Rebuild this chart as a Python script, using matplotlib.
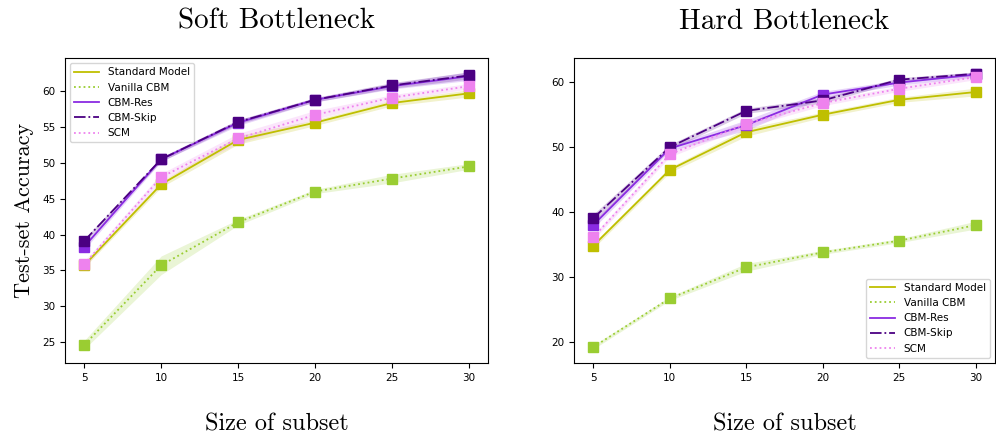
import numpy as np
import matplotlib
matplotlib.use("Agg")
import matplotlib.pyplot as plt

subset = [5, 10, 15, 20, 25, 30]
models = ["Standard Model", "Vanilla CBM", "CBM-Res", "CBM-Skip", "SCM"]

# soft bottleneck: mean / std per model
soft_mean = {
    "Standard Model": [35.7, 47.0, 53.2, 55.6, 58.35, 59.7],
    "Vanilla CBM": [24.6, 35.7, 41.7, 46.0, 47.8, 49.5],
    "CBM-Res": [38.3, 50.5, 55.6, 58.8, 60.7, 62.1],
    "CBM-Skip": [39.1, 50.5, 55.7, 58.8, 60.8, 62.2],
    "SCM": [35.85, 48.0, 53.4, 56.7, 59.1, 60.7],
}
soft_std = {
    "Standard Model": [0.3, 0.4, 0.6, 0.4, 0.4, 0.5],
    "Vanilla CBM": [0.6, 1.3, 0.4, 0.3, 0.6, 0.4],
    "CBM-Res": [0.4, 0.3, 0.4, 0.3, 0.4, 0.6],
    "CBM-Skip": [0.3, 0.3, 0.3, 0.3, 0.4, 0.5],
    "SCM": [0.4, 0.5, 0.7, 0.6, 0.4, 0.4],
}

# hard bottleneck
hard_mean = {
    "Standard Model": [34.8, 46.5, 52.3, 55.0, 57.3, 58.5],
    "Vanilla CBM": [19.2, 26.7, 31.5, 33.8, 35.6, 38.0],
    "CBM-Res": [38.0, 49.8, 53.4, 58.1, 59.95, 61.2],
    "CBM-Skip": [39.05, 50.0, 55.6, 57.2, 60.4, 61.3],
    "SCM": [36.1, 48.9, 53.6, 56.8, 59.0, 60.8],
}
hard_std = {
    "Standard Model": [0.4, 0.4, 0.6, 0.4, 0.4, 0.6],
    "Vanilla CBM": [0.3, 0.3, 0.6, 0.3, 0.3, 0.6],
    "CBM-Res": [0.5, 0.4, 0.8, 0.5, 0.4, 0.4],
    "CBM-Skip": [0.6, 0.4, 0.4, 0.4, 0.3, 0.3],
    "SCM": [0.4, 0.4, 0.5, 0.4, 0.4, 0.4],
}

colors = {"Standard Model": "y", "Vanilla CBM": "yellowgreen",
          "CBM-Res": "blueviolet", "CBM-Skip": "indigo", "SCM": "violet"}
styles = {"Standard Model": "-", "Vanilla CBM": ":", "CBM-Res": "-",
          "CBM-Skip": "-.", "SCM": ":"}

fig = plt.figure(figsize=(9.96, 4.44), dpi=100)
ax1 = fig.add_axes([65/996, 1-363/444, 423/996, 305/444])
ax2 = fig.add_axes([574/996, 1-363/444, 421/996, 305/444])

label_font = dict(family="cmr10", size=17.5)


def draw(ax, means, stds, title, loc):
    x = np.array(subset)
    for m in models:
        mu = np.array(means[m])
        sd = np.array(stds[m])
        ax.plot(x, mu, styles[m], color=colors[m], linewidth=1.3, label=m)
        ax.plot(x, mu, "s", color=colors[m], markersize=7)
        ax.fill_between(x, mu - sd, mu + sd, color=colors[m], alpha=0.2,
                        linewidth=0)
    ax.set_xticks(subset)
    ax.tick_params(labelsize=7.5)
    ax.set_title(title, pad=21, family="cmr10", size=21)
    ax.set_xlabel("Size of subset", labelpad=22, fontdict=label_font)
    ax.legend(loc=loc, fontsize=7.5, handlelength=2.4)


draw(ax1, soft_mean, soft_std, "Soft Bottleneck", "upper left")
draw(ax2, hard_mean, hard_std, "Hard Bottleneck", "lower right")
ax1.set_ylabel("Test-set Accuracy", labelpad=6,
               fontdict=dict(family="cmr10", size=16))

fig.savefig("out.png", dpi=100)
